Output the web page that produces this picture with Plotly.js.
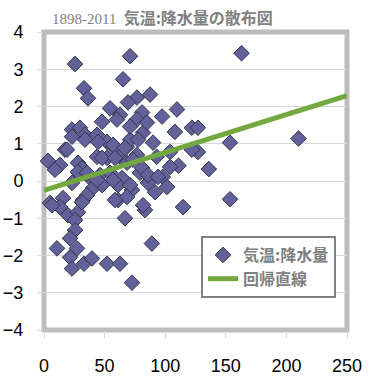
<!DOCTYPE html>
<html>
<head>
<meta charset="utf-8">
<script src="https://cdn.plot.ly/plotly-3.0.1.min.js"></script>
<style>html,body{margin:0;padding:0;background:#fff;}#chart{width:386px;height:383px;}</style>
</head>
<body>
<div id="chart"></div>
<script>
// 降水量 (x) and 気温 (y)
var rainX = [25.6, 71, 163, 33, 36.3, 65.2, 87.5, 76.7, 69.3, 54.5,
  62.7, 47.9, 80.9, 97.4, 109.7, 108, 122, 127, 81.7, 90,
  127, 122, 153.5, 210, 104, 111, 136, 104, 98, 101.5,
  85.8, 72.6, 153.5, 114.7, 83.3, 79.2, 23.1, 29.7, 33.8, 43.7,
  52, 57, 68.5, 17.3, 3.3, 13.2, 28, 52, 62.7, 71,
  76.7, 71, 60.2, 43.7, 85, 31.4, 5, 15.7, 19.8, 32.2,
  28, 25.6, 25.6, 61, 66.8, 81.7, 21.5, 10.7, 27.2, 21.5,
  23.1, 33, 39.6, 52, 62.7, 72.6, 89, 19, 28, 23.1,
  38, 40.4, 35.5, 13.2, 31.4, 46.2, 57, 66.8, 77.6, 47.9,
  58.6, 68.5, 76.7, 93, 54.5, 64.4, 80.9, 85.8, 94, 47.9,
  61, 71, 68.5, 58.6, 91.6, 35.5, 43.7, 73.4, 57, 33.8,
  44.6, 23.1, 6.6, 9];
var tempY = [3.14, 3.35, 3.43, 2.49, 2.22, 2.73, 2.32, 2.24, 2.11, 1.95,
  1.78, 1.59, 1.84, 1.73, 1.92, 1.32, 1.43, 1.43, 1.30, 1.03,
  0.78, 0.84, 1.03, 1.14, 0.78, 0.41, 0.32, 0.38, 0.11, -0.16,
  -0.05, -0.24, -0.49, -0.70, -0.78, 0.22, 1.38, 1.43, 1.24, 1.24,
  1.05, 0.92, 0.92, 0.84, 0.54, 0.43, 0.49, 0.62, 0.65, 1.11,
  1.65, 1.46, 1.65, 0.65, 1.57, 0.35, -0.59, -0.46, -0.92, -0.51,
  -0.84, -1.05, -1.32, -0.51, -1.0, -0.65, -1.54, -1.81, -1.81, -2.05,
  -2.35, -2.22, -2.08, -2.22, -2.22, -2.73, -1.68, 0.84, 0.24, -0.05,
  0.08, -0.19, -0.38, -0.70, -0.57, 0.16, 0.97, 0.89, 1.11, 0.62,
  0.62, 0.49, 0.70, 0.65, 0.22, 0.08, 0.35, 0.16, 0.11, -0.11,
  -0.11, -0.11, -0.43, -0.51, -0.30, 0.22, 0.03, 0.57, 0.03, 1.11,
  1.05, 1.19, -0.65, 0.3];
// regression line end points
var lineX = [0, 250];
var lineY = [-0.25, 2.29];
var xTicks = [0, 50, 100, 150, 200, 250];
var yTicks = [-4, -3, -2, -1, 0, 1, 2, 3, 4];

var traces = [
  {
    x: rainX, y: tempY, type: 'scatter', mode: 'markers', name: '気温:降水量',
    marker: {symbol: 'diamond', size: 12, color: '#62619a', line: {color: '#34344f', width: 1}},
    cliponaxis: false
  },
  {
    x: lineX, y: lineY, type: 'scatter', mode: 'lines', name: '回帰直線',
    line: {color: '#72a83e', width: 5}
  }
];

var layout = {
  width: 386, height: 383,
  margin: {l: 44, r: 39, t: 32, b: 53},
  paper_bgcolor: '#ffffff', plot_bgcolor: '#ffffff',
  font: {family: 'Liberation Sans, Arial, sans-serif', size: 18, color: '#000'},
  showlegend: true,
  title: {
    text: '<span style="font-family:\'Liberation Serif\',serif;font-weight:normal;font-size:15px">1898-2011</span>  <b>気温:降水量の散布図</b>',
    font: {family: 'Noto Sans CJK JP, sans-serif', size: 16, color: '#808080'},
    xref: 'container', yref: 'container', x: 52/386, xanchor: 'left', y: 1 - 18/383, yanchor: 'middle'
  },
  xaxis: {
    range: [0, 250], tickvals: xTicks, ticktext: xTicks.map(String),
    showgrid: false, zeroline: false, showline: false,
    ticks: 'outside', ticklen: 7, tickcolor: '#d9d9d9', tickwidth: 1,
    ticklabelstandoff: 12, fixedrange: true
  },
  yaxis: {
    range: [-4, 4], tickvals: yTicks,
    showgrid: true, gridcolor: '#d9d9d9', gridwidth: 1, zeroline: false, showline: false,
    ticks: 'outside', ticklen: 6, tickcolor: '#d9d9d9', tickwidth: 1,
    ticklabelstandoff: 10, fixedrange: true
  },
  legend: {
    x: (201 - 44) / 303, y: (330 - 236) / 298, xanchor: 'left', yanchor: 'top',
    bgcolor: '#ffffff', bordercolor: '#808080', borderwidth: 2,
    font: {family: 'Noto Sans CJK JP, sans-serif', size: 16, color: '#808080', weight: 'bold'},
    itemsizing: 'trace', tracegroupgap: 0
  },
  shapes: [{
    type: 'rect', xref: 'paper', yref: 'paper', x0: 0, x1: 1, y0: 0, y1: 1,
    line: {color: '#bdbdbd', width: 5}, layer: 'below'
  }]
};

Plotly.newPlot('chart', traces, layout, {displayModeBar: false, staticPlot: true});
</script>
</body>
</html>
